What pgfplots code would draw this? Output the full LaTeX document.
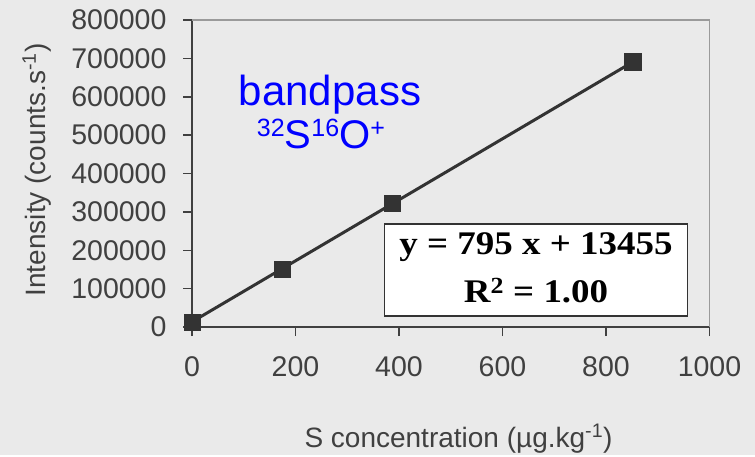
\documentclass[border=0pt]{standalone}
\usepackage{pgfplots}
\pgfplotsset{compat=1.18}
\usepackage{fontspec}
\setmainfont{Liberation Sans}
\newfontfamily\eqfont[FakeStretch=1.12]{Liberation Serif}
\definecolor{bg}{HTML}{EAEAEA}
\definecolor{dk}{HTML}{333333}
\definecolor{tx}{HTML}{404040}
\definecolor{fr}{HTML}{9A9A9A}
\begin{document}
\begin{tikzpicture}[x=1pt,y=1pt]
\fill[bg] (0,0) rectangle (755,455);
\begin{axis}[
  at={(192pt,128pt)}, anchor=south west,
  scale only axis, width=517.5pt, height=307pt,
  xmin=0, xmax=1000, ymin=0, ymax=800000,
  axis x line*=bottom, axis y line*=left,
  axis line style={draw=tx, line width=1.6pt},
  tick align=outside, major tick length=9pt,
  tick style={tx, line width=1.5pt},
  xtick={0,200,...,1000}, ytick={0,100000,...,800000},
  scaled y ticks=false,
  /pgf/number format/fixed, /pgf/number format/1000 sep={},
  ticklabel style={font=\fontsize{28.5}{28.5}\selectfont, text=tx},
  yticklabel style={xshift=-13pt},
  xticklabel style={yshift=-17pt},
  /pgf/number format/assume math mode=true,
  clip=false,
]
\draw[fr, line width=1.5pt] (axis cs:0,800000) -- (axis cs:1000,800000) -- (axis cs:1000,0);
\addplot[dk, line width=3pt] coordinates {(0,13455) (850,689205)};
\addplot[only marks, mark=square*, mark size=8.3pt, mark options={fill=dk, draw=dk}]
  coordinates {(0,13000) (174.5,150400) (387,322300) (852,691300)};
\end{axis}
% equation box
\node[draw=dk, line width=1.5pt, fill=white, minimum width=303pt, minimum height=92pt, inner sep=0pt]
  at (536,185) {};
\node[font=\eqfont\bfseries\fontsize{33}{33}\selectfont, text=black] at (536,208) {y = 795 x + 13455};
\node[font=\eqfont\bfseries\fontsize{33}{33}\selectfont, text=black] at (536,164) {R\textsuperscript{2} = 1.00};
% annotations
\node[font=\fontsize{42}{42}\selectfont, text=blue, anchor=base] at (330,349) {bandpass};
\node[font=\fontsize{40}{40}\selectfont, text=blue, anchor=base] at (321,306)
  {\raisebox{12pt}{\fontsize{25}{25}\selectfont 32}S\raisebox{12pt}{\fontsize{25}{25}\selectfont 16}O\raisebox{12pt}{\fontsize{25}{25}\selectfont +}};
% axis labels
\node[font=\fontsize{28}{28}\selectfont, text=tx, anchor=base] at (458.5,8)
  {S concentration (µg.kg\textsuperscript{-1})};
\node[font=\fontsize{28}{28}\selectfont, text=tx, rotate=90, anchor=base] at (45,285)
  {Intensity (counts.s\textsuperscript{-1})};
\end{tikzpicture}
\end{document}
